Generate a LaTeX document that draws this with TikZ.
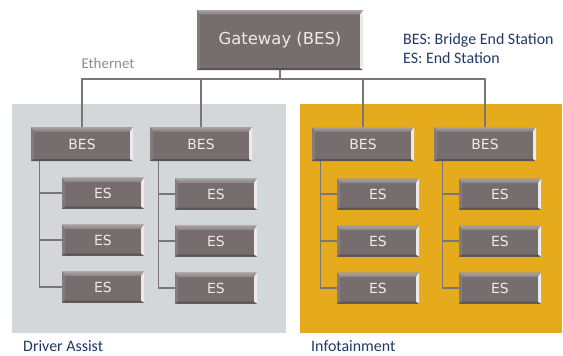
\documentclass[tikz,border=0pt]{standalone}
\usepackage{fontspec}
\setmainfont{Carlito}
\newfontfamily\boxfont{DejaVu Sans}
\definecolor{boxc}{HTML}{766E6E}
\definecolor{boxtop}{HTML}{ABA3A3}
\definecolor{boxtopb}{HTML}{887F7F}
\definecolor{boxhl}{HTML}{EEEAEA}
\definecolor{boxsh}{HTML}{5A5353}
\definecolor{boxtxt}{HTML}{EDEAEA}
\definecolor{linec}{HTML}{7C7575}
\definecolor{panelgray}{HTML}{D4D7DA}
\definecolor{panelyel}{HTML}{E5AB1C}
\definecolor{legc}{HTML}{1F3864}
\definecolor{ethc}{HTML}{8C8C8C}
\tikzset{
  bevel/.style={rectangle, fill=boxc, inner sep=0pt, text=boxtxt,
    font=\boxfont\fontsize{14}{16}\selectfont,
    path picture={
      \path (path picture bounding box.north west) coordinate (ppa)
            (path picture bounding box.south east) coordinate (ppb);
      \fill[top color=boxtop, bottom color=boxtopb]
        (ppa) -- (ppa -| ppb) -- ([xshift=-3bp,yshift=-4.5bp]ppa -| ppb)
        -- ([xshift=3bp,yshift=-4.5bp]ppa) -- cycle;
      \fill[boxtopb!80!boxc]
        (ppa) -- ([xshift=3bp,yshift=-4.5bp]ppa) -- ([xshift=3bp,yshift=2bp]ppb -| ppa)
        -- (ppb -| ppa) -- cycle;
      \fill[boxsh]
        (ppb -| ppa) -- (ppb) -- ([xshift=-3bp,yshift=2bp]ppb)
        -- ([xshift=3bp,yshift=2bp]ppb -| ppa) -- cycle;
      \fill[boxhl]
        (ppa -| ppb) -- (ppb) -- ([xshift=-3bp,yshift=2bp]ppb)
        -- ([xshift=-3bp,yshift=-4.5bp]ppa -| ppb) -- cycle;
    }},
  besbox/.style={bevel, minimum width=102bp, minimum height=34bp},
  esbox/.style={bevel, minimum width=82bp, minimum height=31bp},
  gwbox/.style={bevel, minimum width=166bp, minimum height=60bp,
    font=\boxfont\fontsize{16.5}{18}\selectfont},
  link/.style={draw=linec, line width=1.3bp},
  legend/.style={anchor=west, inner sep=0pt, text=legc, font=\fontsize{16}{18}\selectfont},
}
\begin{document}
\begin{tikzpicture}[x=1bp, y=-1bp]
\useasboundingbox (0,0) rectangle (563,355);
% panels
\fill[panelgray] (12,104) rectangle (286,333);
\fill[panelyel] (300,104) rectangle (562,333);
% nodes
\node[gwbox] (gw) at (280,40) {Gateway (BES)};
\node[besbox] (b1) at (82,144) {BES};
\node[besbox] (b2) at (201,144) {BES};
\node[besbox] (b3) at (363,144) {BES};
\node[besbox] (b4) at (485,144) {BES};
\node[esbox] (e11) at (103,193) {ES};
\node[esbox] (e12) at (103,240) {ES};
\node[esbox] (e13) at (103,287) {ES};
\node[esbox] (e21) at (216,194) {ES};
\node[esbox] (e22) at (216,241) {ES};
\node[esbox] (e23) at (216,288) {ES};
\node[esbox] (e31) at (378,194) {ES};
\node[esbox] (e32) at (378,241) {ES};
\node[esbox] (e33) at (378,288) {ES};
\node[esbox] (e41) at (500,194) {ES};
\node[esbox] (e42) at (500,241) {ES};
\node[esbox] (e43) at (500,288) {ES};
% ethernet bus
\coordinate (bus) at (0,79);
\draw[link] (gw.south) -- (gw.south |- bus);
\draw[link] (b1.north) -- (b1.north |- bus) -- (b4.north |- bus) -- (b4.north);
\draw[link] (b2.north) -- (b2.north |- bus);
\draw[link] (b3.north) -- (b3.north |- bus);
% trunks
\foreach \b in {1,2,3,4}{
  \draw[link] ([xshift=9bp]b\b.south west) |- (e\b3.west);
  \draw[link] ([xshift=9bp]b\b.south west) |- (e\b1.west);
  \draw[link] ([xshift=9bp]b\b.south west) |- (e\b2.west);
}
% texts
\node[anchor=center, inner sep=0pt, text=ethc, font=\fontsize{15}{17}\selectfont] (eth) at (108,63) {Ethernet};
\node[legend] (leg1) at (403,40) {BES: Bridge End Station};
\node[legend] (leg2) at (403,58) {ES: End Station};
\node[legend] (da) at (23,346) {Driver Assist};
\node[legend] (info) at (311,346) {Infotainment};
\end{tikzpicture}
\end{document}
